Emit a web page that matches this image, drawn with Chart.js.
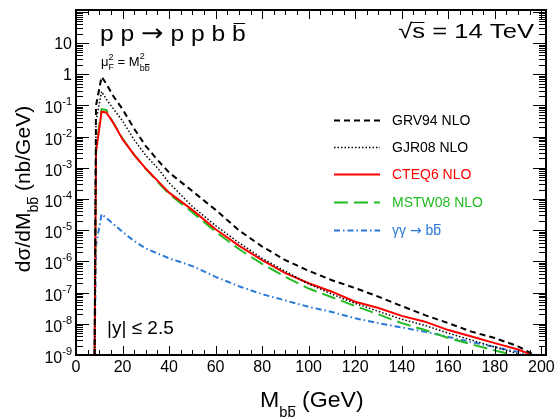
<!DOCTYPE html>
<html>
<head>
<meta charset="utf-8">
<script src="https://cdn.jsdelivr.net/npm/chart.js@4/dist/chart.umd.min.js"></script>
<style>body{margin:0;background:#fff}</style>
</head>
<body>
<canvas id="c" width="560" height="420"></canvas>
<script>
// invariant mass bins (GeV)
const mass = [8, 8.6, 11, 13, 16, 20, 25, 30, 35, 40, 50, 60, 70, 80, 90, 100, 110, 120, 130, 140, 150, 160, 170, 180, 190, 196];

// d sigma / dM (nb/GeV)
const grv94 = [1e-9, 1e-1, 0.83, 0.5, 0.2, 7.6e-2, 1.8e-2, 5.0e-3, 1.8e-3, 7.1e-4, 1.8e-4, 4.5e-5, 1.0e-5, 3.0e-6, 1.1e-6, 5.0e-7, 2.5e-7, 1.4e-7, 7.4e-8, 3.7e-8, 1.9e-8, 1.05e-8, 5.6e-9, 3.5e-9, 1.9e-9, 1.1e-9];
const gjr08 = [1e-9, 3.2e-2, 0.28, 0.16, 7.9e-2, 3.2e-2, 7.9e-3, 2.5e-3, 1.0e-3, 3.3e-4, 5.8e-5, 1.4e-5, 4.0e-6, 1.26e-6, 4.8e-7, 1.9e-7, 8.9e-8, 4.5e-8, 2.5e-8, 1.4e-8, 8.9e-9, 5.0e-9, 3.0e-9, 1.8e-9, 1.1e-9, 8e-10];
const cteq6 = [1e-9, 3.2e-3, 6.3e-2, 6.0e-2, 2.8e-2, 8.3e-3, 2.6e-3, 9.5e-4, 3.9e-4, 1.6e-4, 4.5e-5, 1.07e-5, 3.2e-6, 1.1e-6, 4.2e-7, 2.0e-7, 1.07e-7, 5.1e-8, 3.2e-8, 1.8e-8, 1.17e-8, 6.3e-9, 3.9e-9, 2.4e-9, 1.5e-9, 1e-9];
const mstw08 = [1e-9, 4.0e-3, 7.6e-2, 7.2e-2, 2.8e-2, 8.7e-3, 2.6e-3, 9.3e-4, 3.6e-4, 1.45e-4, 3.8e-5, 8.9e-6, 2.5e-6, 8.3e-7, 3.2e-7, 1.35e-7, 7.1e-8, 3.7e-8, 2.0e-8, 1.05e-8, 6.3e-9, 3.5e-9, 2.2e-9, 1.4e-9, 9.3e-10, null];
const gamgam = [1e-9, 3.2e-6, 3.3e-5, 2.5e-5, 1.6e-5, 8.9e-6, 4.5e-6, 2.6e-6, 1.8e-6, 1.26e-6, 7.1e-7, 3.2e-7, 1.6e-7, 8.9e-8, 5.6e-8, 3.5e-8, 2.4e-8, 1.5e-8, 1.05e-8, 7.6e-9, 5.6e-9, 3.8e-9, 2.6e-9, 1.8e-9, 1.26e-9, 9e-10];

const xTicks = [0, 20, 40, 60, 80, 100, 120, 140, 160, 180, 200];
const yExponents = [-9, -8, -7, -6, -5, -4, -3, -2, -1, 0, 1];

const FONT = '"Liberation Sans", Arial, Helvetica, sans-serif';
const ARROW_FONT = '"DejaVu Sans", sans-serif';
const GREEN = '#22bb22';
const BLUE = '#2a78d8';

const toXY = vals => mass.map((m, i) => ({ x: m, y: vals[i] }));

// draws text made of pieces: {t, size, dy, bar, stack, font}; sx stretches it horizontally
function richText(ctx, x, y, parts, align, sx) {
  sx = sx || 1;
  const fontOf = p => p.size + 'px ' + (p.font || FONT);
  const ws = parts.map(p => { ctx.font = fontOf(p); return ctx.measureText(p.t).width; });
  const xs = [];
  let cx = 0, start = 0, prevW = 0;
  parts.forEach((p, i) => {
    if (p.stack) { xs.push(start); prevW = Math.max(prevW, ws[i]); cx = start + prevW; }
    else { xs.push(cx); start = cx; prevW = ws[i]; cx += ws[i]; }
  });
  const total = cx * sx;
  const x0 = align === 'right' ? x - total : align === 'center' ? x - total / 2 : x;
  ctx.save();
  ctx.translate(x0, y);
  ctx.scale(sx, 1);
  parts.forEach((p, i) => {
    ctx.font = fontOf(p);
    const yy = p.dy || 0;
    ctx.fillText(p.t, xs[i], yy);
    if (p.bar) {
      ctx.strokeStyle = ctx.fillStyle;
      ctx.lineWidth = 1;
      ctx.beginPath();
      const by = Math.round(y + yy - p.size * (p.barH || 0.82)) + 0.5 - y;
      ctx.moveTo(xs[i] + (p.bx0 || 0.1) * ws[i], by);
      ctx.lineTo(xs[i] + 0.95 * ws[i], by);
      ctx.stroke();
    }
  });
  ctx.restore();
}

const bbSub = (size, dy) => [{ t: 'b', size, dy }, { t: 'b', size, dy, bar: true }];

const rootStyle = {
  id: 'rootStyle',
  afterDraw(chart) {
    const { ctx, chartArea: a, scales: { x, y } } = chart;
    ctx.save();
    ctx.strokeStyle = '#000';
    ctx.fillStyle = '#000';
    ctx.lineWidth = 1;

    // x ticks, bottom and top
    ctx.beginPath();
    for (let v = 0; v <= 200; v += 5) {
      const px = Math.round(x.getPixelForValue(v)) + 0.5;
      const len = v % 20 === 0 ? 9 : 5;
      ctx.moveTo(px, a.bottom); ctx.lineTo(px, a.bottom - len);
      ctx.moveTo(px, a.top); ctx.lineTo(px, a.top + len);
    }
    // y ticks (log), left and right
    for (let e = -9; e <= 2; e++) {
      for (let k = 1; k <= 9; k++) {
        const v = k * Math.pow(10, e);
        if (v < y.min || v > y.max) continue;
        const py = Math.round(y.getPixelForValue(v)) + 0.5;
        const len = k === 1 ? 13 : 7;
        ctx.moveTo(a.left, py); ctx.lineTo(a.left + len, py);
        ctx.moveTo(a.right, py); ctx.lineTo(a.right - len, py);
      }
    }
    ctx.stroke();

    // frame
    ctx.lineWidth = 2;
    ctx.strokeRect(a.left, a.top, a.right - a.left, a.bottom - a.top);

    // x tick labels
    ctx.font = '16px ' + FONT;
    ctx.textAlign = 'center';
    xTicks.forEach(v => ctx.fillText(String(v), x.getPixelForValue(v), 372));

    // y tick labels
    ctx.textAlign = 'left';
    yExponents.forEach(e => {
      const py = y.getPixelForValue(Math.pow(10, e));
      if (e === 0) richText(ctx, 72, py + 6, [{ t: '1', size: 16 }], 'right');
      else if (e === 1) richText(ctx, 72, py + 6, [{ t: '10', size: 16 }], 'right');
      else richText(ctx, 72, py + 8, [{ t: '10', size: 16 }, { t: String(e), size: 11, dy: -8 }], 'right');
    });

    // axis titles
    richText(ctx, 260, 407, [{ t: 'M', size: 22 }, ...bbSub(14, 10), { t: ' (GeV)', size: 22 }], 'left', 1.05);
    ctx.save();
    ctx.translate(30, 189);
    ctx.rotate(-Math.PI / 2);
    richText(ctx, 0, 0, [{ t: 'dσ/dM', size: 21 }, ...bbSub(14, 8), { t: ' (nb/GeV)', size: 21 }], 'center');
    ctx.restore();

    // annotations
    richText(ctx, 100, 41, [{ t: 'p p ', size: 22 }, { t: '→', size: 24, font: ARROW_FONT }, { t: ' p p b ', size: 22 },
      { t: 'b', size: 22, bar: true, barH: 0.8 }], 'left', 1.12);
    richText(ctx, 534, 38, [{ t: '√', size: 21 }, { t: 's', size: 21, bar: true, barH: 0.78, bx0: -0.1 }, { t: ' = 14 TeV', size: 21 }], 'right', 1.22);
    richText(ctx, 101, 66, [{ t: 'μ', size: 13 }, { t: '2', size: 9, dy: -6 }, { t: 'F', size: 9, dy: 4, stack: true },
      { t: ' = M', size: 13 }, { t: '2', size: 9, dy: -7 }, { t: 'b', size: 9, dy: 5, stack: true }, { t: 'b', size: 9, dy: 5, bar: true }], 'left');
    richText(ctx, 107, 334, [{ t: '|y| ≤ 2.5', size: 19 }], 'left');

    // legend
    const entries = [
      { ds: 0, text: [{ t: 'GRV94 NLO', size: 14 }], color: '#000', yc: 120 },
      { ds: 1, text: [{ t: 'GJR08 NLO', size: 14 }], color: '#000', yc: 147 },
      { ds: 2, text: [{ t: 'CTEQ6 NLO', size: 14 }], color: '#ff0000', yc: 174 },
      { ds: 3, text: [{ t: 'MSTW08 NLO', size: 14 }], color: GREEN, yc: 202 },
      { ds: 4, text: [{ t: 'γγ ', size: 14 }, { t: '→', size: 14, font: ARROW_FONT }, { t: ' b', size: 14 }, { t: 'b', size: 14, bar: true }], color: BLUE, yc: 230 }
    ];
    entries.forEach(en => {
      const d = chart.data.datasets[en.ds];
      ctx.save();
      ctx.strokeStyle = d.borderColor;
      ctx.lineWidth = d.borderWidth;
      ctx.setLineDash(d.borderDash || []);
      ctx.beginPath();
      ctx.moveTo(334, en.yc + 0.5); ctx.lineTo(380, en.yc + 0.5);
      ctx.stroke();
      ctx.restore();
      ctx.fillStyle = en.color;
      richText(ctx, 392, en.yc + 5, en.text, 'left');
    });
    ctx.restore();
  }
};

new Chart(document.getElementById('c').getContext('2d'), {
  type: 'line',
  data: {
    datasets: [
      { label: 'GRV94 NLO', data: toXY(grv94), borderColor: '#000', borderWidth: 2, borderDash: [6, 4] },
      { label: 'GJR08 NLO', data: toXY(gjr08), borderColor: '#000', borderWidth: 1.5, borderDash: [1.5, 2] },
      { label: 'CTEQ6 NLO', data: toXY(cteq6), borderColor: '#ff0000', borderWidth: 2 },
      { label: 'MSTW08 NLO', data: toXY(mstw08), borderColor: GREEN, borderWidth: 2, borderDash: [14, 6] },
      { label: 'γγ → bb̄', data: toXY(gamgam), borderColor: BLUE, borderWidth: 2, borderDash: [6, 3, 1.5, 3] }
    ]
  },
  options: {
    responsive: false,
    animation: false,
    events: [],
    layout: { padding: { left: 76, right: 14, top: 10, bottom: 65 } },
    elements: { point: { radius: 0 }, line: { tension: 0, fill: false } },
    plugins: { legend: { display: false }, tooltip: { enabled: false } },
    scales: {
      x: { type: 'linear', min: 0, max: 202, display: false },
      y: { type: 'logarithmic', min: 1e-9, max: 115, display: false }
    }
  },
  plugins: [rootStyle]
});
</script>
</body>
</html>
